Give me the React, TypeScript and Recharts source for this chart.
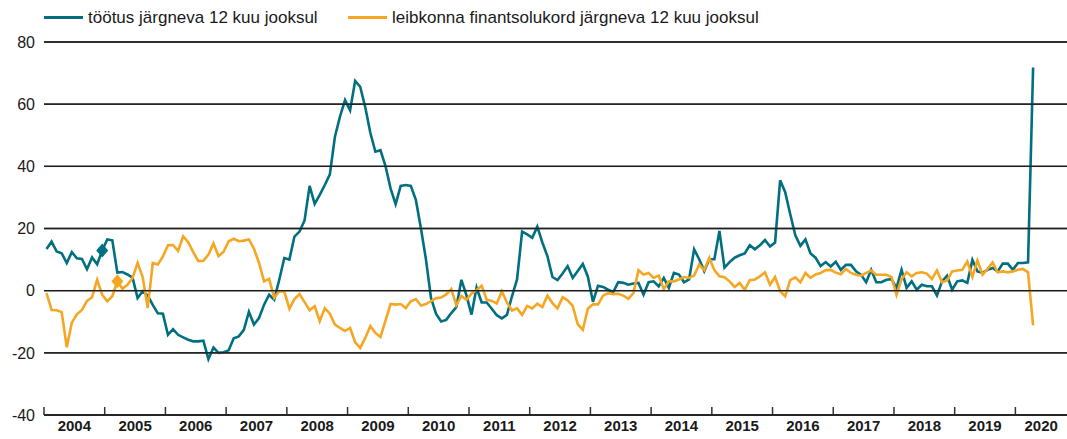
import { LineChart, Line, XAxis, YAxis, Legend, CartesianGrid } from "recharts";

// monthly values, Jan 2004 .. Apr 2020
const years = ["2004", "2005", "2006", "2007", "2008", "2009", "2010", "2011", "2012",
  "2013", "2014", "2015", "2016", "2017", "2018", "2019", "2020"];

const unemployment = [
  13.4, 15.8, 12.6, 12.0, 8.9, 12.4, 10.4, 10.2, 6.9, 10.7, 8.5, 12.9,
  16.5, 16.2, 5.8, 6.0, 5.2, 4.2, -2.4, -0.2, -1.6, -4.6, -7.3, -7.4,
  -14.2, -12.4, -14.2, -15, -15.8, -16.3, -16.3, -16.1, -22, -18.3, -20, -19.8,
  -19.2, -15.3, -14.7, -12.6, -6.8, -10.9, -8.8, -4.5, -1.3, -2.9, 3.5, 10.5,
  10, 17.4, 19, 22.6, 33.7, 27.9, 30.8, 34, 37.4, 49.5, 56, 61.3,
  58, 67.5, 65.6, 59, 50.8, 44.7, 45.2, 40.1, 32.9, 27.8, 33.7, 34,
  33.7, 29.2, 20.1, 10, -2.4, -7.5, -9.9, -9.4, -7.2, -5.3, 3.5, -1.5,
  -7.7, 1, -3.8, -3.8, -5.8, -7.9, -8.9, -7.8, -1.8, 3.6, 19, 18.1,
  17, 20.6, 15.5, 11.1, 4.4, 3.4, 5.5, 7.9, 4.1, 6.3, 8.6, 4.5,
  -3.6, 1.6, 1.2, 0.3, -0.5, 2.7, 2.5, 1.9, 2.3, 2.5, -1.3, 2.7,
  3.0, 1.4, 4.1, 0.9, 5.7, 5.2, 2.7, 3.6, 13.3, 10.1, 6.3, 10.1,
  10.1, 19.2, 7.4, 9.2, 10.6, 11.4, 12, 14.6, 13.3, 14.6, 16.3, 14.2,
  15.5, 35.5, 31.7, 24.6, 17.8, 14.4, 16.5, 12, 10.6, 7.9, 9.2, 7.8,
  9.3, 6.7, 8.3, 8.3, 6.2, 5.1, 2.7, 6.7, 2.7, 2.7, 3.5, 3.7,
  0.9, 6.7, 0.9, 3, 0.3, 1.9, 1.4, 1.4, -1.6, 3, 4.8, 0.3,
  3, 3.3, 2.5, 9.9, 6.2, 5.7, 6.7, 7.3, 6.2, 8.7, 8.7, 6.7,
  8.9, 8.9, 9.1, 71.8,
];

const finances = [
  -0.8, -6.2, -6.3, -6.9, -18.2, -10.3, -7.6, -6.2, -3.3, -2.1, 3.5, -1.3,
  -3.4, -1.8, 3.0, 0.6, 1.9, 4.1, 8.9, 4.4, -5.6, 8.9, 8.4, 11,
  14.6, 14.7, 12.8, 17.5, 15.6, 12.4, 9.5, 9.6, 11.6, 15.2, 11.1, 12.5,
  15.9, 16.7, 15.9, 16.1, 16.5, 13.5, 8.9, 3, 3.8, -2.3, -0.2, -0.3,
  -5.8, -2.7, -1.1, -3.7, -6.3, -5, -9.8, -5.6, -7.4, -10.9, -12, -13,
  -12, -16.6, -18.4, -15.2, -11.4, -13.6, -14.9, -9.6, -4.3, -4.5, -4.3, -5.6,
  -3.4, -2.7, -4.8, -4.3, -3.4, -2.4, -2.2, -1.2, 0.5, -4.7, -1.7, -2.9,
  -1, 0.2, 1.6, -2.9, -3.3, -4.1, -0.2, -3.8, -6.4, -5.7, -7.8, -4.9,
  -5.7, -4.2, -5.3, -1.6, -4, -5.7, -2.1, -3.1, -4.9, -10.8, -12.6, -5.8,
  -4.4, -4.4, -1.6, -0.8, -1.1, -1, -1.6, -2.6, -0.8, 6.6, 5.2, 5.7,
  4.1, 4.9, 0.5, 3, 3, 3.6, 4.4, 4.1, 4.9, 8.4, 6.6, 10.6,
  6.6, 4.6, 4.3, 3, 1.2, 2.5, 0.3, 3.4, 3.6, 4.6, 5.9, 1.9,
  4.4, -0.2, -1.8, 3.4, 4.3, 2.7, 5.7, 4.1, 5.2, 5.7, 6.6, 6.7,
  5.8, 5.3, 7, 5.7, 5.1, 4.8, 5.7, 6.5, 5.1, 5.1, 5.1, 4.4,
  -1.3, 3.7, 5.9, 4.6, 5.7, 5.9, 5.5, 3.7, 6.5, 2.7, 3.3, 6.2,
  6.5, 6.7, 9.4, 4.4, 9.7, 5.1, 7, 9.1, 5.9, 6.2, 5.9, 6.2,
  6.7, 7, 5.9, -11.2,
];

// highlighted points (diamonds)
const unemploymentMarker = 11;
const financesMarker = 14;

const yTicks = [-40, -20, 0, 20, 40, 60, 80];

const TEAL = "#006f80";
const ORANGE = "#f5a623";
const GRID = "#1e1e1e";
const FONT = "'Liberation Sans', Arial, Helvetica, sans-serif";
const W = 1067;
const H = 439;
const Y_AXIS_W = 44;
const Y_TICK_GAP = 9;

const X_END = 202.2; // axis runs a bit into 2020
const yearStarts = years.map((_, i) => i * 12);
const labelPos = years.map((_, i) => (i < years.length - 1 ? i * 12 + 6 : (i * 12 + X_END) / 2));

const data = unemployment.map((v, i) => ({
  x: i + 0.5,
  unemployment: v,
  finances: finances[i],
}));

const legendOrder = ["unemployment", "finances"];
const legendLeft: Record<string, number> = { unemployment: 44, finances: 348 };

const YearTick = (props: any) => {
  const { x, y, payload } = props;
  const v = payload.value;
  const k = labelPos.indexOf(v);
  if (k < 0) {
    return <rect x={x - 0.75} y={y - 8} width={1.5} height={8} fill="#333" />;
  }
  return (
    <text x={x} y={y + 5} dy="0.71em" textAnchor="middle" fontFamily={FONT} fontSize={15} fontWeight="bold" fill="#1a1a1a">
      {years[k]}
    </text>
  );
};

// y tick label plus its horizontal gridline across the plot (drawn as a thin rect)
const ValueTick = (props: any) => {
  const { x, y, payload } = props;
  const left = Number(x) + Y_TICK_GAP;
  return (
    <g>
      <rect x={left} y={Number(y) - 0.7} width={W - left} height={1.4} fill={GRID} />
      <text x={x} y={y} dy="0.355em" textAnchor="end" fontFamily={FONT} fontSize={16} fill="#1a1a1a">
        {payload.value}
      </text>
    </g>
  );
};

const diamond = (marker: number, color: string) => (props: any) => {
  const { cx, cy, index } = props;
  if (index !== marker) return <g key={`n${index}`} />;
  return (
    <path
      key={`d${index}`}
      d={`M${cx},${cy - 7} L${cx + 6},${cy} L${cx},${cy + 7} L${cx - 6},${cy} Z`}
      fill={color}
    />
  );
};

const renderLegend = (props: any) => {
  const items = [...props.payload].sort(
    (a: any, b: any) => legendOrder.indexOf(a.dataKey) - legendOrder.indexOf(b.dataKey)
  );
  return (
    <div style={{ position: "relative", height: 34, fontFamily: FONT, fontSize: 17, color: "#1a1a1a" }}>
      {items.map((entry: any) => (
        <div
          key={entry.dataKey}
          style={{ position: "absolute", left: legendLeft[entry.dataKey], top: 7, height: 22, display: "flex", alignItems: "center", whiteSpace: "nowrap" }}
        >
          <span style={{ display: "inline-block", width: 39, height: 3, background: entry.color, marginRight: 5, position: "relative", top: -1 }} />
          <span>{entry.value}</span>
        </div>
      ))}
    </div>
  );
};

export default function App() {
  return (
    <div style={{ position: "absolute", left: 0, top: 0, width: W, height: H, background: "#fff" }}>
      <LineChart width={W} height={H} data={data} margin={{ top: 42, right: 0, bottom: 0, left: 0 }}>
        <CartesianGrid vertical={false} stroke={GRID} strokeWidth={1.4} fill="none" />
        <XAxis
          dataKey="x"
          type="number"
          domain={[0, X_END]}
          allowDataOverflow
          ticks={[...yearStarts, ...labelPos].sort((a, b) => a - b)}
          interval={0}
          tick={<YearTick />}
          tickLine={false}
          tickSize={0}
          tickMargin={0}
          axisLine={{ stroke: "#333", strokeWidth: 1.5 }}
          height={24}
        />
        <Legend
          verticalAlign="middle"
          align="center"
          layout="horizontal"
          wrapperStyle={{ top: 0, left: 0, width: W, height: 34 }}
          content={renderLegend}
        />
        <Line
          type="linear"
          dataKey="unemployment"
          name="töötus järgneva 12 kuu jooksul"
          stroke={TEAL}
          strokeWidth={2.6}
          fill="none"
          dot={diamond(unemploymentMarker, TEAL)}
          activeDot={false}
          isAnimationActive={false}
        />
        <Line
          type="linear"
          dataKey="finances"
          name="leibkonna finantsolukord järgneva 12 kuu jooksul"
          stroke={ORANGE}
          strokeWidth={2.6}
          fill="none"
          dot={diamond(financesMarker, ORANGE)}
          activeDot={false}
          isAnimationActive={false}
        />
        <YAxis
          domain={[-40, 80]}
          ticks={yTicks}
          width={Y_AXIS_W}
          axisLine={false}
          tickLine={false}
          tickSize={0}
          tickMargin={Y_TICK_GAP}
          interval={0}
          tick={<ValueTick />}
        />
      </LineChart>
    </div>
  );
}
